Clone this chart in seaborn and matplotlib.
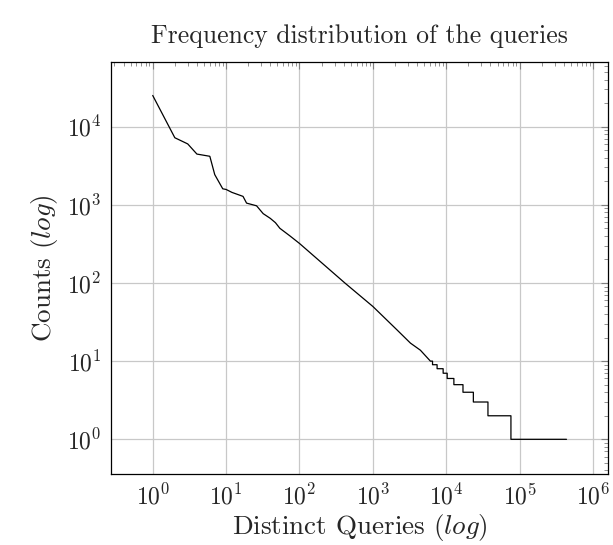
import numpy as np
import pandas as pd
import matplotlib
matplotlib.use("Agg")
import matplotlib.pyplot as plt
import seaborn as sns
from matplotlib.ticker import LogLocator, NullFormatter

# Rank-frequency data
ranks = [1, 2, 3, 4, 6, 7, 9, 10, 12, 17, 19, 26, 32, 40, 47, 54, 74, 100,
         420, 1000, 2140, 3250, 4440, 6080,
         6500, 6501, 7500, 7501, 9070, 9071, 10300, 10301, 12700, 12701,
         16900, 16901, 23400, 23401, 37000, 37001, 76100, 76101, 435000]
counts = [25000, 7200, 6000, 4450, 4170, 2430, 1600, 1570, 1440, 1280, 1050, 970, 770, 670, 590, 500, 400, 320,
          99, 50, 25, 17, 13.8, 10,
          10, 9, 9, 8, 8, 7, 7, 6, 6, 5,
          5, 4, 4, 3, 3, 2, 2, 1, 1]

title = "Frequency distribution of the queries"
xlabel = r"Distinct Queries ($\mathit{log}$)"
ylabel = r"Counts ($\mathit{log}$)"

df = pd.DataFrame({"rank": ranks, "count": counts})

sns.set_style("white")
plt.rcParams["font.family"] = ["serif"]
plt.rcParams["font.serif"] = ["cmr10", "DejaVu Serif"]
plt.rcParams["mathtext.fontset"] = "cm"
plt.rcParams["axes.formatter.use_mathtext"] = True

fig = plt.figure(figsize=(6.13, 5.45), dpi=100)
ax = fig.add_axes([111 / 613, (545 - 474) / 545, (608 - 111) / 613, (474 - 62) / 545])
ax.set_xscale("log")
ax.set_yscale("log")

sns.lineplot(data=df, x="rank", y="count", ax=ax, color="black", linewidth=0.9,
             estimator=None, sort=False)

ax.set_xlim(0.27, 1.6e6)
ax.set_ylim(0.36, 6.7e4)

ax.xaxis.set_major_locator(LogLocator(base=10, numticks=20))
ax.yaxis.set_major_locator(LogLocator(base=10, numticks=20))
ax.xaxis.set_minor_locator(LogLocator(base=10, subs=np.arange(2, 10), numticks=20))
ax.yaxis.set_minor_locator(LogLocator(base=10, subs=np.arange(2, 10), numticks=20))
ax.xaxis.set_minor_formatter(NullFormatter())
ax.yaxis.set_minor_formatter(NullFormatter())

ax.grid(True, which="major", color="#c8c8c8", linewidth=0.9)
ax.set_axisbelow(True)
for s in ax.spines.values():
    s.set_color("black")
    s.set_linewidth(0.9)

ax.tick_params(which="both", direction="in", top=True, right=True, color="#808080")
ax.tick_params(which="major", length=5, width=0.8, labelsize=17, pad=7)
ax.tick_params(which="minor", length=3, width=0.6)

ax.set_title(title, fontsize=18.5, pad=14)
ax.set_xlabel(xlabel, fontsize=19.5, labelpad=2)
ax.set_ylabel(ylabel, fontsize=19.5, labelpad=5)

fig.savefig("out.png", dpi=100)
